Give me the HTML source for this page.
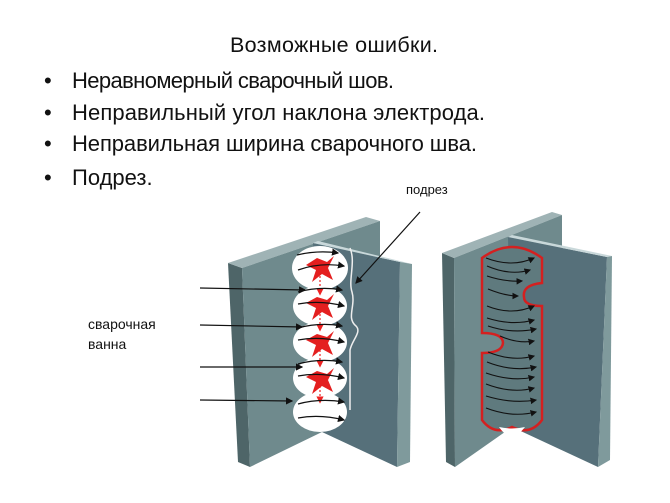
<!DOCTYPE html>
<html><head><meta charset="utf-8"><style>
body{margin:0;background:#fff;}
svg{display:block;font-family:"Liberation Sans",sans-serif;}
</style></head><body>
<svg width="670" height="503" viewBox="0 0 670 503">
<defs>
<marker id="a" markerWidth="6" markerHeight="6" refX="5" refY="3" orient="auto"><path d="M0,0L6,3L0,6z" fill="#111"/></marker>
<marker id="r" markerWidth="6" markerHeight="6" refX="3" refY="3" orient="auto"><path d="M0,0L6,3L0,6z" fill="#e22"/></marker>
</defs>
<text x="230" y="52" font-size="21.5" fill="#111" textLength="208">Возможные ошибки.</text>
<g font-size="22" fill="#111">
<text x="44" y="88">•</text><text x="72" y="88" textLength="322">Неравномерный сварочный шов.</text>
<text x="44" y="120">•</text><text x="72" y="120" textLength="413">Неправильный угол наклона электрода.</text>
<text x="44" y="151">•</text><text x="72" y="151" textLength="405">Неправильная ширина сварочного шва.</text>
<text x="44" y="185">•</text><text x="72" y="185">Подрез.</text>
</g>
<text x="406" y="194" font-size="13" fill="#111">подрез</text>
<text x="88" y="329" font-size="14" fill="#111">сварочная</text>
<text x="88" y="349" font-size="14" fill="#111">ванна</text>

<!-- left diagram -->
<g>
<polygon points="228,263 242,268 250,467 238,462" fill="#4e6568"/>
<polygon points="228,263 366,217 380,221 242,268" fill="#9fb3b5"/>
<polygon points="242,268 380,221 380,432 322,432 250,467" fill="#6f8a8d"/>
<polygon points="313,243 400,262 397,467 322,432" fill="#56707a"/>
<polygon points="313,243 318,241 412,264 400,262" fill="#c9d8da"/>
<polygon points="400,262 412,264 410,462 397,467" fill="#7f9a9c"/>
<path d="M350,248 C356,262 348,280 352,292 C356,306 346,318 356,326 C362,332 352,340 350,350 L350,410" stroke="#eee" stroke-width="1.5" fill="none"/>
<g fill="#fff">
<ellipse cx="320" cy="268" rx="28" ry="22"/>
<ellipse cx="320" cy="306" rx="27" ry="20"/>
<ellipse cx="320" cy="342" rx="27" ry="20"/>
<ellipse cx="320" cy="378" rx="27" ry="20"/>
<ellipse cx="320" cy="412" rx="27" ry="20"/>
</g>
<g fill="#e41f1f">
<path d="M317,258 L327,262 L334,256 L328,268 L333,280 L322,274 L312,282 L316,270 L306,265 Z"/>
<path d="M317,297 L327,300 L334,294 L328,306 L333,318 L322,312 L312,320 L316,308 L306,303 Z"/>
<path d="M317,334 L327,337 L334,331 L328,343 L333,355 L322,349 L312,357 L316,345 L306,340 Z"/>
<path d="M317,371 L327,374 L334,368 L328,380 L333,392 L322,386 L312,394 L316,382 L306,377 Z"/>
</g>
<g stroke="#e22" stroke-width="1.2" stroke-dasharray="2,2" fill="none" marker-end="url(#r)">
<line x1="320" y1="276" x2="320" y2="292"/><line x1="320" y1="314" x2="320" y2="328"/>
<line x1="320" y1="350" x2="320" y2="364"/><line x1="320" y1="386" x2="320" y2="400"/>
</g>
<g stroke="#111" stroke-width="1.2" fill="none" marker-end="url(#a)">
<path d="M297,255 Q318,250 338,253"/><path d="M298,270 Q320,262 344,266"/>
<path d="M298,292 Q320,286 342,290"/><path d="M298,304 Q320,300 344,306"/>
<path d="M298,328 Q320,322 342,326"/><path d="M298,340 Q320,336 344,342"/>
<path d="M298,364 Q320,358 342,362"/><path d="M298,376 Q320,372 344,378"/>
<path d="M298,404 Q320,398 344,402"/><path d="M298,418 Q320,414 344,420"/>
<line x1="200" y1="288" x2="305" y2="290"/><line x1="200" y1="325" x2="302" y2="327"/>
<line x1="200" y1="367" x2="302" y2="367"/><line x1="200" y1="400" x2="292" y2="401"/>
<line x1="420" y1="212" x2="356" y2="283"/>
</g>
</g>

<!-- right diagram -->
<g>
<polygon points="442,253 454,258 455,467 446,462" fill="#4e6568"/>
<polygon points="442,253 552,212 562,215 454,258" fill="#9fb3b5"/>
<polygon points="454,258 562,215 562,430 512,427 455,467" fill="#6f8a8d"/>
<polygon points="508,237 607,257 598,467 512,427" fill="#56707a"/>
<polygon points="508,237 512,235 612,256 607,257" fill="#c9d8da"/>
<polygon points="607,257 612,256 610,460 598,467" fill="#7f9a9c"/>
<path d="M482,258 Q512,236 542,258 L542,283 Q522,285 524,297 Q524,306 542,306 L542,420 Q530,436 512,427 Q494,436 482,420 L482,353 Q502,353 503,343 Q503,333 482,333 Z" fill="#5f7a7e" stroke="#d42020" stroke-width="2.5"/>
<path d="M499,427 Q512,430 525,427 Q518,436 512,436 Q505,436 499,427Z" fill="#fff"/>
<g stroke="#111" stroke-width="1.1" fill="none" marker-end="url(#a)">
<path d="M486,258 Q512,268 534,258"/><path d="M487,266 Q510,276 530,270"/>
<path d="M487,276 Q505,282 522,281"/><path d="M488,289 Q505,296 518,296"/>
<path d="M487,306 Q512,316 534,306"/><path d="M487,318 Q512,326 534,320"/>
<path d="M488,326 Q512,334 536,329"/><path d="M500,336 Q518,344 534,341"/>
<path d="M488,352 Q512,362 534,356"/><path d="M487,362 Q512,372 536,367"/>
<path d="M486,373 Q512,382 534,377"/><path d="M486,384 Q512,394 534,388"/>
<path d="M486,396 Q512,404 536,400"/><path d="M486,408 Q512,418 536,412"/>
</g>
</g>
</svg>
</body></html>
